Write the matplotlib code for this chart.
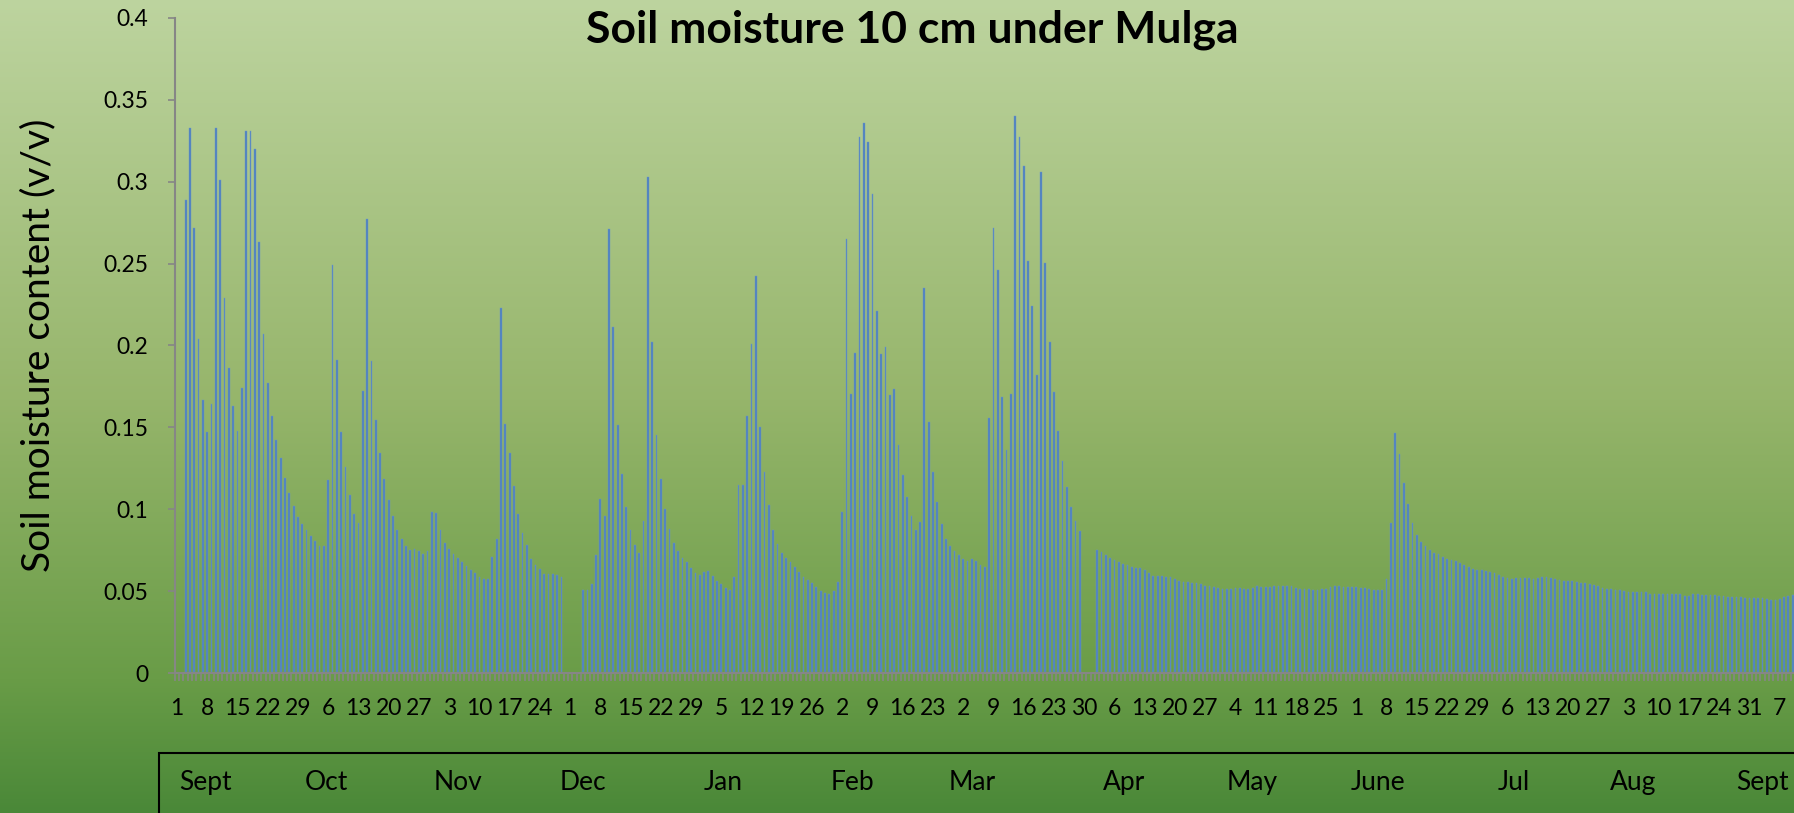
import numpy as np
import matplotlib
matplotlib.use("Agg")
import matplotlib.pyplot as plt
from matplotlib.patches import Rectangle
from matplotlib.transforms import blended_transform_factory

plt.rcParams['font.family'] = ['Lato', 'DejaVu Sans']

# daily soil moisture (v/v), 1 Sept .. 10 Sept next year; nan = no reading
sep_vals = [np.nan, np.nan, 0.289, 0.333, 0.272, 0.204, 0.167, 0.147, 0.164, 0.333,
            0.301, 0.229, 0.186, 0.163, 0.148, 0.174, 0.331, 0.331, 0.320, 0.263,
            0.207, 0.177, 0.157, 0.142, 0.131, 0.119, 0.110, 0.102, 0.095, 0.091]
oct_vals = [0.0875, 0.0836, 0.0804, 0.0776, 0.0776, 0.1178, 0.2494, 0.191, 0.147, 0.1256,
            0.1086, 0.0971, 0.0914, 0.1724, 0.2774, 0.1904, 0.1547, 0.1345, 0.1187, 0.1059,
            0.0956, 0.0875, 0.0818, 0.0774, 0.0749, 0.0755, 0.0743, 0.0727, 0.0745, 0.0984,
            0.0978]
nov_vals = [0.0871, 0.0794, 0.0755, 0.0727, 0.0703, 0.068, 0.0656, 0.0632, 0.061, 0.0589,
            0.0571, 0.0577, 0.0711, 0.0818, 0.2226, 0.1519, 0.1345, 0.1144, 0.097, 0.0853,
            0.078, 0.0697, 0.066, 0.0634, 0.0606, 0.0606, 0.0606, 0.0597, 0.0587, np.nan]
dec_vals = [np.nan, np.nan, np.nan, 0.0504, 0.0504, 0.0543, 0.0721, 0.1065, 0.0958, 0.271,
            0.2114, 0.1515, 0.1217, 0.1013, 0.0871, 0.0782, 0.0731, 0.0928, 0.303, 0.2019,
            0.1454, 0.1187, 0.1004, 0.0877, 0.0792, 0.0743, 0.0705, 0.0676, 0.0644, 0.0612,
            0.0599]
jan_vals = [0.0616, 0.062, 0.0591, 0.0563, 0.0543, 0.0518, 0.0506, 0.0587, 0.1146, 0.1146,
            0.1571, 0.2009, 0.2424, 0.1505, 0.1229, 0.1029, 0.0873, 0.0786, 0.0733, 0.07,
            0.0679, 0.0647, 0.0615, 0.0589, 0.0567, 0.0548, 0.0525, 0.0502, 0.0491, 0.0482,
            0.0502]
feb_vals = [0.0555, 0.0984, 0.2649, 0.1702, 0.1954, 0.3271, 0.3356, 0.3245, 0.2927, 0.2213,
            0.195, 0.1993, 0.1697, 0.1734, 0.1392, 0.1209, 0.1076, 0.0961, 0.0872, 0.092,
            0.2351, 0.153, 0.1229, 0.1044, 0.0908, 0.0819, 0.0773, 0.0745]
mar_vals = [0.0722, 0.0697, 0.0681, 0.0695, 0.0681, 0.0661, 0.0647, 0.1557, 0.2716, 0.2463,
            0.1686, 0.1362, 0.1702, 0.3401, 0.3273, 0.3094, 0.2518, 0.2243, 0.1819, 0.3062,
            0.2502, 0.2023, 0.1716, 0.1477, 0.1296, 0.1138, 0.1016, 0.0927, 0.0867, np.nan,
            np.nan]
apr_vals = [np.nan, 0.075, 0.0736, 0.0718, 0.0704, 0.069, 0.0679, 0.0667, 0.0658, 0.0647,
            0.064, 0.064, 0.0626, 0.061, 0.0592, 0.0592, 0.0592, 0.0587, 0.0587, 0.0571,
            0.0562, 0.0555, 0.0553, 0.0551, 0.0547, 0.0541, 0.0531, 0.0529, 0.0525, 0.052]
may_vals = [0.0514, 0.051, 0.0516, 0.052, 0.0518, 0.0516, 0.0516, 0.052, 0.0529, 0.0525,
            0.0525, 0.0525, 0.0529, 0.0529, 0.0529, 0.0529, 0.0529, 0.0522, 0.0516, 0.0512,
            0.051, 0.0504, 0.0506, 0.0514, 0.0516, 0.0527, 0.0531, 0.0531, 0.0527, 0.0525,
            0.0527]
jun_vals = [0.0527, 0.0522, 0.0518, 0.0514, 0.0508, 0.0506, 0.0508, 0.0573, 0.0915, 0.1466,
            0.1339, 0.116, 0.1031, 0.0919, 0.0844, 0.08, 0.0774, 0.0751, 0.0735, 0.0725,
            0.0711, 0.0699, 0.0693, 0.0687, 0.0674, 0.0662, 0.065, 0.0638, 0.063, 0.0626]
jul_vals = [0.062, 0.0614, 0.0608, 0.0597, 0.0589, 0.0583, 0.0577, 0.0583, 0.0579, 0.0579,
            0.0579, 0.0571, 0.0581, 0.0585, 0.0589, 0.0583, 0.0573, 0.0565, 0.0561, 0.0559,
            0.0559, 0.0553, 0.0549, 0.0547, 0.0545, 0.0535, 0.0531, 0.0522, 0.0516, 0.051,
            0.0508]
aug_vals = [0.0504, 0.05, 0.0496, 0.0494, 0.0492, 0.0494, 0.0494, 0.0484, 0.0482, 0.0482,
            0.0484, 0.0484, 0.0482, 0.048, 0.048, 0.0472, 0.0472, 0.048, 0.048, 0.0476,
            0.0476, 0.0476, 0.0474, 0.0472, 0.047, 0.0464, 0.0464, 0.0462, 0.0462, 0.0458,
            0.0458]
sep2_vals = [0.046, 0.0456, 0.0456, 0.0452, 0.0446, 0.0448, 0.0452, 0.0464, 0.0472, 0.0474]

# tick labels every 7 days (day of month)
week_labels = ['1', '8', '15', '22', '29', '6', '13', '20', '27', '3', '10', '17', '24',
               '1', '8', '15', '22', '29', '5', '12', '19', '26', '2', '9', '16', '23',
               '2', '9', '16', '23', '30', '6', '13', '20', '27', '4', '11', '18', '25',
               '1', '8', '15', '22', '29', '6', '13', '20', '27', '3', '10', '17', '24',
               '31', '7']
month_names = ['Sept', 'Oct', 'Nov', 'Dec', 'Jan', 'Feb', 'Mar', 'Apr', 'May', 'June',
               'Jul', 'Aug', 'Sept']
y_ticks = [0, 0.05, 0.1, 0.15, 0.2, 0.25, 0.3, 0.35, 0.4]
y_tick_labels = ['0', '0.05', '0.1', '0.15', '0.2', '0.25', '0.3', '0.35', '0.4']

moisture = np.array(sep_vals + oct_vals + nov_vals + dec_vals + jan_vals + feb_vals +
                    mar_vals + apr_vals + may_vals + jun_vals + jul_vals + aug_vals +
                    sep2_vals, dtype=float)
days = np.arange(len(moisture))

# where the month names sit in the table under the chart (category units)
month_label_x = [6.5, 34.5, 65, 94, 126.4, 156.3, 184, 219.2, 248.8, 278, 309.5, 337, 367.1]

W, H = 1794, 813
fig = plt.figure(figsize=(W / 100, H / 100), dpi=100)

# green gradient background
bg = fig.add_axes([0, 0, 1, 1], zorder=-10)
stops_y = np.array([0, 400, 680, 813]) / H
stops_c = np.array([[189, 212, 159], [150, 181, 107], [105, 156, 71], [74, 136, 56]]) / 255
yy = np.linspace(0, 1, 400)
grad = np.stack([np.interp(yy, stops_y, stops_c[:, k]) for k in range(3)], axis=-1)
bg.imshow(grad[:, None, :], aspect='auto', extent=[0, 1, 0, 1], origin='upper')
bg.set_xlim(0, 1)
bg.set_ylim(0, 1)
bg.axis('off')

# main axes, running off the right edge like the original
px_per_day = 4.32
x_left = 174.84
n_cat = 381
ax = fig.add_axes([x_left / W, 140 / H, n_cat * px_per_day / W, 655 / H])
ax.set_facecolor('none')
ax.bar(days, moisture, width=0.4, color='#4F81BD', edgecolor='#6a96cc', linewidth=0.3)
ax.set_xlim(-0.5, n_cat - 0.5)
ax.set_ylim(0, 0.4)

grey = '#868686'
for s in ['top', 'right']:
    ax.spines[s].set_visible(False)
for s in ['left', 'bottom']:
    ax.spines[s].set_color(grey)
    ax.spines[s].set_linewidth(1.5)

ax.set_xticks(np.arange(0, len(week_labels) * 7, 7))
ax.set_xticklabels(week_labels, fontsize=16.5)
ax.set_xticks(np.arange(-0.5, n_cat, 1), minor=True)
ax.tick_params(axis='x', which='major', length=0, pad=18)
ax.tick_params(axis='x', which='minor', length=6, width=1.2, color=grey)
ax.set_yticks(y_ticks)
ax.set_yticklabels(y_tick_labels, fontsize=16.5)
ax.tick_params(axis='y', length=5, width=1.2, color=grey, pad=14)

ax.set_ylabel('Soil moisture content (v/v)', fontsize=28, labelpad=34)
fig.text(912 / W, 1 - 42 / H, 'Soil moisture 10 cm under Mulga', fontsize=32,
         fontweight='bold', ha='center', va='baseline')

# month table under the axis
fig.patches.append(Rectangle((159 / W, -0.1), 1.0, 0.1 + (H - 753) / H,
                             transform=fig.transFigure, fill=False,
                             edgecolor='black', linewidth=1.5))
trans = blended_transform_factory(ax.transData, fig.transFigure)
for xm, name in zip(month_label_x, month_names):
    ax.text(xm, 1 - 782 / H, name, transform=trans, fontsize=19,
            ha='center', va='center', clip_on=False)

fig.savefig('out.png', dpi=100)
